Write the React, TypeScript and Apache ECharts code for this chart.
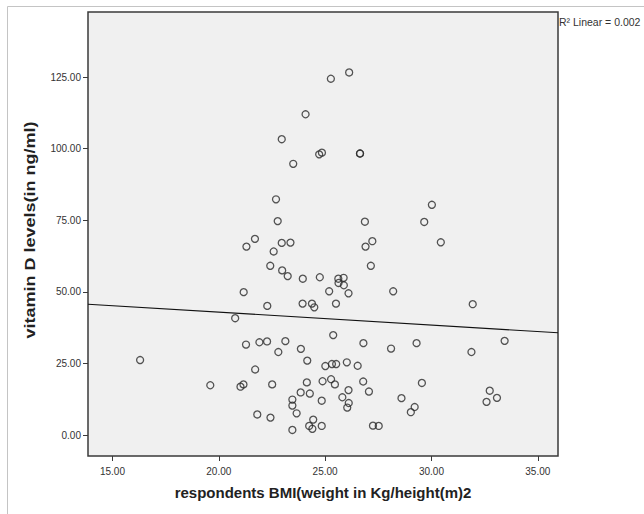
import React, { useEffect, useRef } from "react";
import * as echarts from "echarts";

const bmi: number[] = [
  25.27, 26.13, 24.08, 22.96, 24.72, 24.85, 26.64, 26.64, 23.5, 22.69,
  30.02, 22.77, 26.87, 29.66, 21.7, 21.3, 22.96, 23.37, 22.58, 27.22,
  26.9, 30.44, 22.42, 22.98, 23.24, 27.15, 23.95, 24.75, 25.62, 25.87,
  25.63, 25.88, 25.19, 26.1, 21.17, 28.2, 22.28, 23.94, 24.38, 24.49,
  25.51, 31.94, 20.77, 25.38, 33.44, 21.28, 21.91, 22.27, 23.13, 26.8,
  29.3, 22.8, 23.86, 28.1, 31.88, 16.3, 24.16, 25.01, 25.32, 25.52,
  26.02, 26.53, 21.71, 19.6, 21.16, 21.02, 22.51, 24.14, 24.88, 25.28,
  25.46, 26.79, 29.55, 26.1, 27.06, 23.85, 24.28, 23.46, 23.46, 24.84,
  25.81, 26.11, 26.04, 28.59, 29.21, 29.03, 32.74, 33.08, 32.59, 23.66,
  21.81, 22.43, 24.44, 24.25, 24.4, 24.84, 23.46, 27.25, 27.52,
];
const vitaminD: number[] = [
  124.4, 126.6, 112.0, 103.3, 98.0, 98.6, 98.3, 98.3, 94.7, 82.3,
  80.4, 74.7, 74.5, 74.4, 68.5, 65.8, 67.1, 67.2, 64.1, 67.7,
  65.8, 67.3, 59.1, 57.5, 55.5, 59.1, 54.6, 55.1, 54.6, 54.9,
  53.1, 52.3, 50.2, 49.5, 49.9, 50.2, 45.1, 45.9, 45.9, 44.6,
  45.9, 45.7, 40.8, 34.9, 32.9, 31.6, 32.4, 32.7, 32.8, 32.1,
  32.1, 29.0, 30.1, 30.2, 29.0, 26.2, 26.0, 24.1, 24.8, 24.8,
  25.4, 24.2, 22.9, 17.4, 17.7, 16.9, 17.7, 18.4, 18.8, 19.5,
  17.7, 18.7, 18.2, 15.7, 15.2, 14.9, 14.5, 12.4, 10.3, 12.0,
  13.2, 11.2, 9.6, 12.9, 9.8, 8.0, 15.5, 13.0, 11.6, 7.6,
  7.2, 6.1, 5.4, 3.2, 2.2, 3.2, 1.8, 3.3, 3.2,
];
const fitLineX: number[] = [13.85, 35.95];
const fitLineY: number[] = [45.7, 35.7];
const xTicks: number[] = [15, 20, 25, 30, 35];
const yTicks: number[] = [0, 25, 50, 75, 100, 125];
const xTitle = "respondents BMI(weight in Kg/height(m)2";
const yTitle = "vitamin D levels(in ng/ml)";
const r2Label = "R\u00B2 Linear = 0.002";

export default function App() {
  const ref = useRef<HTMLDivElement>(null);
  useEffect(() => {
    if (!ref.current) return;
    const chart = echarts.init(ref.current, null, { renderer: "svg" });
    const font = "'Liberation Sans', Arial, sans-serif";
    chart.setOption({
      animation: false,
      textStyle: { fontFamily: font },
      graphic: [
        {
          type: "rect",
          shape: { x: 7.5, y: 6.5, width: 800, height: 700 },
          style: { fill: "none", stroke: "#c4c4c4", lineWidth: 1 },
          silent: true,
        },
        {
          type: "text",
          x: 559,
          y: 16,
          style: {
            text: r2Label,
            fontSize: 10.5,
            fill: "#333",
            fontFamily: font,
          },
        },
        {
          type: "text",
          x: 30,
          y: 230,
          rotation: Math.PI / 2,
          scaleX: 1.2,
          style: {
            text: yTitle,
            fontSize: 15,
            fontWeight: "bold",
            fill: "#222",
            fontFamily: font,
            align: "center",
            verticalAlign: "middle",
          },
        },
      ],
      grid: {
        left: 88,
        top: 12,
        width: 470,
        height: 444,
        show: true,
        backgroundColor: "#f0f0f0",
        borderColor: "#3a3a3a",
        borderWidth: 1.5,
      },
      xAxis: {
        type: "value",
        min: 13.85,
        max: 35.95,
        splitLine: { show: false },
        axisLine: { show: false, onZero: false },
        axisTick: {
          show: true,
          length: 5,
          lineStyle: { color: "#3a3a3a", width: 1 },
          customValues: xTicks,
        },
        axisLabel: {
          customValues: xTicks,
          formatter: (v: number) => v.toFixed(2),
          fontSize: 10,
          color: "#333",
          margin: 10,
        },
        name: xTitle,
        nameLocation: "middle",
        nameGap: 29,
        nameTextStyle: { fontSize: 15, fontWeight: "bold", color: "#222" },
      },
      yAxis: {
        type: "value",
        min: -7.3,
        max: 147.7,
        splitLine: { show: false },
        axisLine: { show: false, onZero: false },
        axisTick: {
          show: true,
          length: 5,
          lineStyle: { color: "#3a3a3a", width: 1 },
          customValues: yTicks,
        },
        axisLabel: {
          customValues: yTicks,
          formatter: (v: number) => v.toFixed(2),
          fontSize: 10,
          color: "#333",
          margin: 7,
        },
      },
      series: [
        {
          type: "scatter",
          data: bmi.map((x, i) => [x, vitaminD[i]]),
          symbol: "circle",
          symbolSize: 7,
          itemStyle: {
            color: "rgba(0,0,0,0)",
            borderColor: "#2a2a2a",
            borderWidth: 1.3,
          },
          z: 3,
        },
        {
          type: "line",
          data: fitLineX.map((x, i) => [x, fitLineY[i]]),
          showSymbol: false,
          symbol: "none",
          lineStyle: { color: "#111", width: 1.1 },
          z: 2,
        },
      ],
    });
    return () => chart.dispose();
  }, []);
  return (
    <div
      ref={ref}
      style={{ position: "absolute", left: 0, top: 0, width: 644, height: 514, background: "#fff" }}
    />
  );
}
